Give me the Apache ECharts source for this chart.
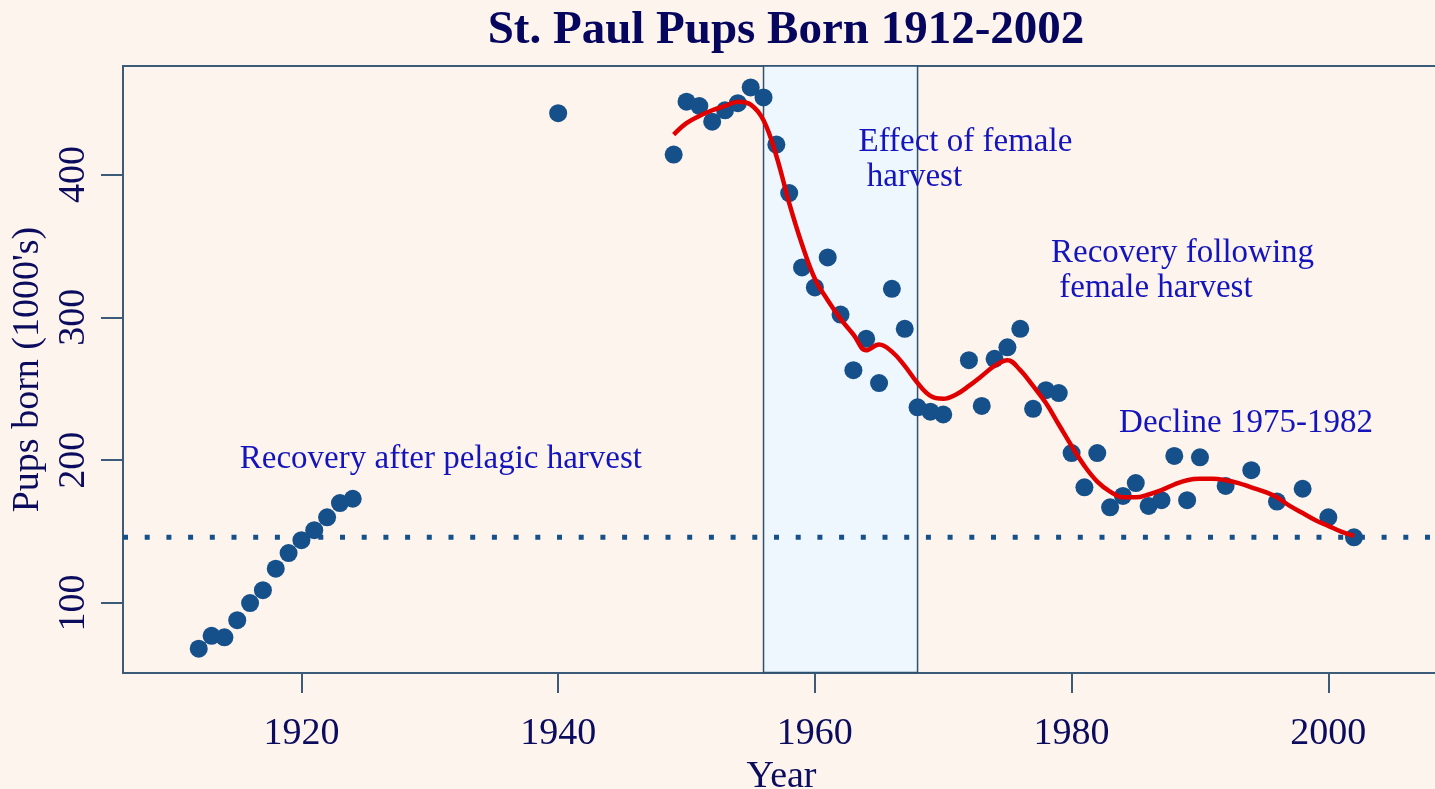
<!DOCTYPE html>
<html>
<head>
<meta charset="utf-8">
<script src="https://cdn.jsdelivr.net/npm/echarts@6/dist/echarts.min.js"></script>
<style>
html,body{margin:0;padding:0;background:#fdf4ee;}
#chart{width:1435px;height:789px;}
</style>
</head>
<body>
<div id="chart"></div>
<script>
// ---- data ----
const pupYears = [1912,1913,1914,1915,1916,1917,1918,1919,1920,1921,1922,1923,1924,
  1940,
  1949,1950,1951,1952,1953,1954,1955,1956,1957,1958,1959,1960,1961,1962,1963,1964,1965,1966,1967,1968,1969,1970,
  1972,1973,1974,1975,1976,1977,1978,1979,1980,1981,1982,1983,1984,1985,1986,1987,1988,1989,1990,
  1992,1994,1996,1998,2000,2002];
const pupValues = [68,77,76,88,100,109,124,135,144,151,160,170,173,
  443,
  414,451,448,437,445,450,461,454,421,387,335,321,342,302,263,285,254,320,292,237,234,232,
  270,238,271,279,292,236,249,247,205,181,205,167,175,184,168,172,203,172,202,
  182,193,171,180,160,146];

const smoothYears = [1949,1950,1951,1952,1953,1954,1955,1956,1957,1958,1959,1960,1961,1962,1963,1964,1965,1966,1967,1968,1969,1970,
  1971,1972,1973,1974,1975,1976,1977,1978,1979,1980,1981,1982,1983,1984,1985,1986,1987,1988,1989,1990,1991,1992,1993,1994,1995,1996,1997,1998,1999,2000,2001,2002];
const smoothValues = [428,436,441,445,448,451,449,438,413,380,351,327,312,299,288,277,281,276,266,254,245,243,
  246,252,259,266,270,263,252,240,225,210,196,185,178,174,174,176,179,183,186,187,187,186,184,181,178,174,168,163,158,154,150,147];

const referenceLevel = 146;
const harvestPeriod = [1956, 1968];

const xTicks = [1920,1940,1960,1980,2000];
const yTicks = [100,200,300,400];
const xRange = [1906.1, 2008.7];
const yRange = [51, 476];

const annotations = [
  {text: 'Recovery after pelagic harvest', x: 1915.2, y: 200.5},
  {text: 'Effect of female\n harvest', x: 1963.4, y: 410},
  {text: 'Recovery following\n female harvest', x: 1978.4, y: 332.5},
  {text: 'Decline 1975-1982', x: 1983.7, y: 225.5}
];

// ---- chart ----
const SERIF = '"Liberation Serif","DejaVu Serif",serif';
const NAVY = '#0c0c5e';
const BOX = '#3b5b78';
const DOT = '#15508a';

const chart = echarts.init(document.getElementById('chart'));
chart.setOption({
  backgroundColor: '#fdf4ee',
  animation: false,
  title: {
    text: 'St. Paul Pups Born 1912-2002',
    left: 781, top: 2, textAlign: 'center',
    textStyle: {fontFamily: SERIF, fontWeight: 'bold', fontSize: 47, color: '#06065e'}
  },
  grid: {left: 123, top: 66, right: -5, bottom: 116, outerBoundsMode: 'none', containLabel: false,
    show: true, borderColor: BOX, borderWidth: 2, backgroundColor: 'transparent'},
  xAxis: {
    type: 'value', min: xRange[0], max: xRange[1],
    name: 'Year', nameLocation: 'middle', nameGap: 78,
    nameTextStyle: {fontFamily: SERIF, fontSize: 38, color: NAVY},
    axisLine: {show: false},
    splitLine: {show: false},
    axisTick: {show: true, length: 20, customValues: xTicks, lineStyle: {color: BOX, width: 2}},
    axisLabel: {customValues: xTicks, margin: 42, fontFamily: SERIF, fontSize: 38, color: NAVY, formatter: v => String(v)}
  },
  yAxis: {
    type: 'value', min: yRange[0], max: yRange[1],
    name: "Pups born (1000's)", nameLocation: 'middle', nameGap: 72, nameRotate: 90,
    nameTextStyle: {fontFamily: SERIF, fontSize: 38, color: NAVY},
    axisLine: {show: false},
    splitLine: {show: false},
    axisTick: {show: true, length: 22, customValues: yTicks, lineStyle: {color: BOX, width: 2}},
    axisLabel: {customValues: yTicks, rotate: 90, margin: 30, fontFamily: SERIF, fontSize: 38, color: NAVY, formatter: v => String(v)}
  },
  series: [
    {
      name: 'harvest', type: 'line', data: [], silent: true,
      markArea: {
        silent: true,
        itemStyle: {color: '#eef6fe', borderColor: '#2f5272', borderWidth: 1.5},
        data: [[{xAxis: harvestPeriod[0], yAxis: yRange[0] + 0.3}, {xAxis: harvestPeriod[1], yAxis: yRange[1] + 1}]]
      }
    },
    {
      name: 'ref', type: 'line', silent: true, symbol: 'none',
      data: [[xRange[0], referenceLevel], [xRange[1], referenceLevel]],
      lineStyle: {color: DOT, width: 5, type: [5, 16.7]}
    },
    {
      name: 'pups', type: 'scatter', symbol: 'circle', symbolSize: 18,
      itemStyle: {color: DOT, opacity: 1},
      data: pupYears.map((y, i) => [y, pupValues[i]]),
      z: 3
    },
    {
      name: 'smooth', type: 'line', symbol: 'none', smooth: 0.4,
      lineStyle: {color: '#e00000', width: 4.5},
      data: smoothYears.map((y, i) => [y, smoothValues[i]]),
      z: 4
    },
    {
      name: 'notes', type: 'scatter', symbolSize: 0, silent: true,
      itemStyle: {opacity: 1},
      data: annotations.map(a => ({value: [a.x, a.y], label: {formatter: a.text}})),
      label: {show: true, position: 'right', distance: 0, fontFamily: SERIF, fontSize: 33, lineHeight: 35, color: '#1414bc', align: 'left'},
      z: 5
    }
  ]
});
</script>
</body>
</html>
